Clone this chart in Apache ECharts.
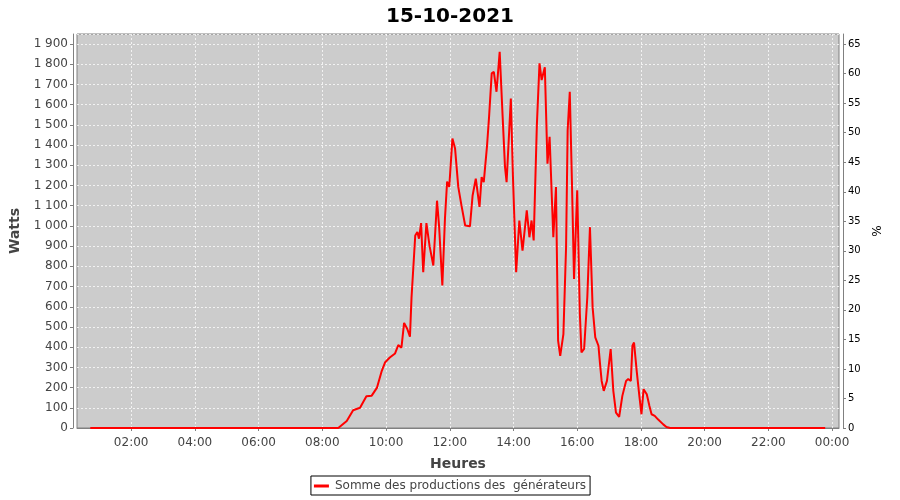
<!DOCTYPE html>
<html>
<head>
<meta charset="utf-8">
<script src="https://cdn.jsdelivr.net/npm/echarts@6/dist/echarts.min.js"></script>
<style>
html,body{margin:0;padding:0;background:#fff;}
#chart{width:900px;height:500px;}
</style>
</head>
<body>
<div id="chart"></div>
<script>
const title = '15-10-2021';
const seriesName = 'Somme des productions des  générateurs';
const times = ['00:43','08:30','08:33','08:46','08:58','09:11','09:23','09:33','09:43','09:52','09:58','10:07','10:17','10:23','10:29','10:34','10:40','10:45','10:48','10:55','10:59','11:02','11:06','11:10','11:16','11:22','11:29','11:36','11:40','11:46','11:51','11:55','11:59','12:05','12:10','12:16','12:22','12:29','12:38','12:43','12:49','12:56','13:00','13:04','13:10','13:14','13:19','13:23','13:28','13:34','13:39','13:44','13:47','13:55','13:59','14:05','14:11','14:17','14:25','14:30','14:34','14:38','14:44','14:49','14:53','14:59','15:04','15:08','15:15','15:20','15:24','15:28','15:34','15:39','15:42','15:46','15:50','15:54','16:00','16:05','16:08','16:13','16:19','16:24','16:29','16:34','16:40','16:43','16:46','16:50','16:56','17:03','17:08','17:13','17:19','17:25','17:32','17:36','17:41','17:44','17:47','17:52','17:57','18:01','18:05','18:11','18:16','18:20','18:26','18:32','18:42','18:48','18:55','23:47'];
const watts = [0,0,2,35,88,100,157,160,200,283,324,349,369,410,398,520,490,452,647,953,970,937,1014,771,1014,900,804,1125,994,705,1040,1220,1193,1433,1383,1193,1102,1002,998,1151,1234,1094,1242,1217,1391,1540,1755,1763,1664,1862,1573,1292,1217,1631,1242,771,1027,878,1077,944,1027,928,1499,1805,1722,1785,1308,1441,944,1193,432,357,465,895,1474,1664,1226,738,1176,564,374,391,647,994,597,448,407,316,233,184,233,391,184,76,55,159,233,242,233,407,423,283,159,68,192,167,109,68,60,43,18,5,0,0];
const xTickLabels = ['02:00','04:00','06:00','08:00','10:00','12:00','14:00','16:00','18:00','20:00','22:00','00:00'];
const wattsMax = 1950;
const ratio = 1900 / 65; // watts per percent

function toHours(t) { const p = t.split(':'); return +p[0] + (+p[1]) / 60; }
const data = times.map((t, i) => [toHours(t), watts[i]]);
const tickHours = xTickLabels.map((t, i) => toHours(t) + (i === xTickLabels.length - 1 ? 24 : 0));

const chart = echarts.init(document.getElementById('chart'), null, {renderer: 'canvas'});
const font = 'DejaVu Sans';
const gridLine = {color: 'rgba(255,255,255,0.75)', type: [2, 2], width: 1};
function pad(n){return (n<10?'0':'')+n;}
function fmtHour(v) { const h = Math.round(v * 60); return pad(Math.floor(h / 60) % 24) + ':' + pad(h % 60); }
chart.setOption({
  backgroundColor: '#ffffff',
  animation: false,
  title: {
    text: title, left: 'center', top: 2,
    textStyle: {fontFamily: font, fontSize: 20, fontWeight: 'bold', color: '#000'}
  },
  legend: {
    data: [seriesName], left: 'center', top: 476,
    borderColor: '#000', borderWidth: 1, padding: [4, 4, 3, 3],
    icon: 'rect', itemWidth: 15, itemHeight: 3, itemGap: 4,
    textStyle: {fontFamily: font, fontSize: 12, color: '#444', padding: [0,0,0,1]}
  },
  grid: {
    left: 77, right: 61, top: 34, bottom: 72,
    show: true, backgroundColor: '#cccccc', borderColor: '#808080', borderWidth: 1
  },
  xAxis: {
    type: 'value',
    min: toHours('00:18'), max: 24 + toHours('00:13'),
    offset: 4,
    name: 'Heures', nameLocation: 'middle', nameGap: 25,
    nameTextStyle: {fontFamily: font, fontSize: 14, fontWeight: 'bold', color: '#444'},
    axisLine: {show: true, lineStyle: {color: '#808080', width: 1}},
    axisTick: {show: true, length: 3, lineStyle: {color: '#808080'}, customValues: tickHours},
    axisLabel: {
      fontFamily: font, fontSize: 12, color: '#444', margin: 5,
      customValues: tickHours,
      formatter: function (v) { return fmtHour(v); }
    },
    splitLine: {show: false}
  },
  yAxis: [{
    type: 'value', min: 0, max: wattsMax, interval: 100, position: 'left', offset: 4,
    name: 'Watts', nameLocation: 'middle', nameGap: 50, nameRotate: 90,
    nameTextStyle: {fontFamily: font, fontSize: 14, fontWeight: 'bold', color: '#444'},
    axisLine: {show: true, lineStyle: {color: '#808080', width: 1}},
    axisTick: {show: true, length: 3, lineStyle: {color: '#808080'}},
    axisLabel: {
      fontFamily: font, fontSize: 12, color: '#444', margin: 5, showMaxLabel: false,
      formatter: function (v) { return v >= 1000 ? Math.floor(v/1000) + ' ' + String(v%1000).padStart(3,'0') : String(v); }
    },
    splitLine: {show: true, lineStyle: gridLine}
  }, {
    type: 'value', min: 0, max: wattsMax / ratio, interval: 5, position: 'right', offset: 4,
    name: '%', nameLocation: 'middle', nameGap: 26, nameRotate: 90,
    nameTextStyle: {fontFamily: font, fontSize: 12, color: '#000'},
    axisLine: {show: true, lineStyle: {color: '#808080', width: 1}},
    axisTick: {show: true, length: 3, lineStyle: {color: '#808080'}},
    axisLabel: {fontFamily: font, fontSize: 10, color: '#000', margin: 5, showMaxLabel: false},
    splitLine: {show: false}
  }],
  series: [{
    name: seriesName, type: 'line', yAxisIndex: 0, data: data, z: 10,
    showSymbol: false, symbol: 'rect', symbolSize: 3,
    lineStyle: {color: '#ff0000', width: 2}, itemStyle: {color: '#ff0000'}
  }, {
    type: 'line', yAxisIndex: 1, data: [], silent: true, z: 1,
    markLine: {
      z: 1, silent: true, symbol: 'none', animation: false,
      label: {show: false}, emphasis: {disabled: true},
      lineStyle: gridLine,
      data: tickHours.map(h => ({xAxis: h}))
    }
  }]
});
</script>
</body>
</html>
